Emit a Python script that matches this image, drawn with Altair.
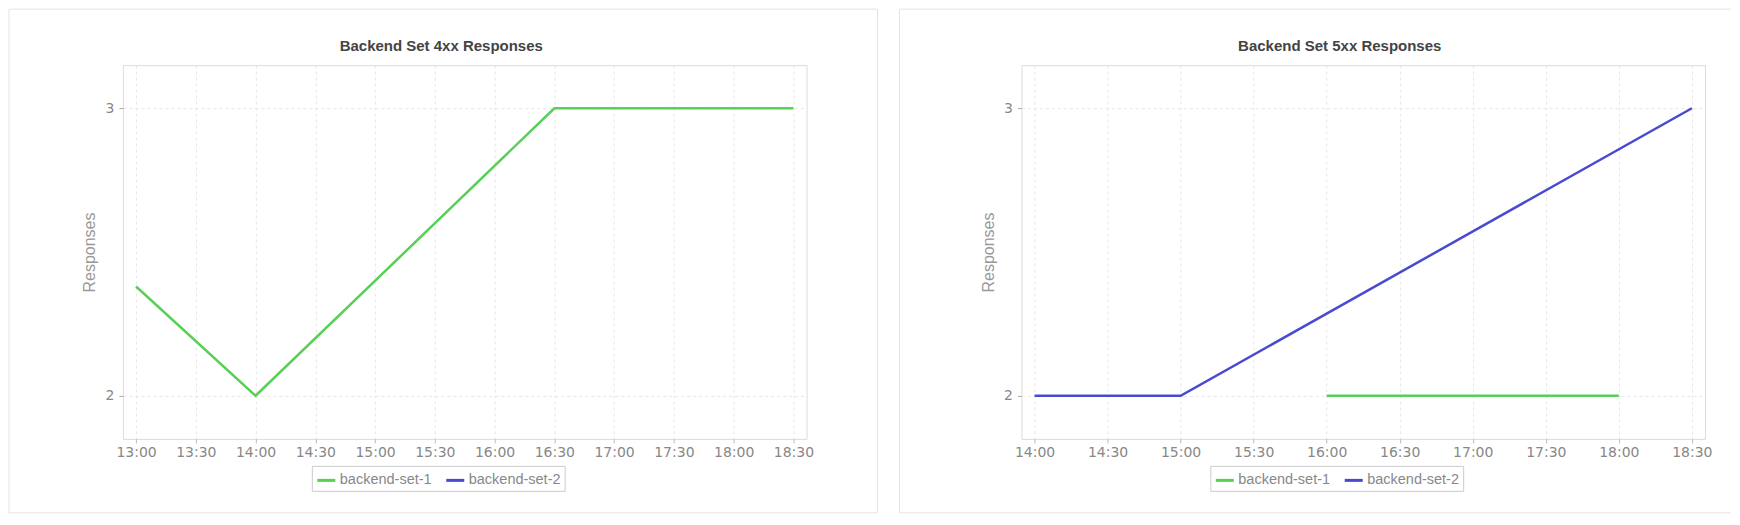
import altair as alt
import pandas as pd

DAY = "2024-01-01T"

series_names = ["backend-set-1", "backend-set-2"]
series_colors = ["#57d057", "#4a4ad0"]

# Backend Set 4xx Responses
c4_set1_times = ["13:00", "14:00", "16:30", "18:30"]
c4_set1_values = [2.38, 2.0, 3.0, 3.0]

# Backend Set 5xx Responses
c5_set1_times = ["16:00", "18:00"]
c5_set1_values = [2.0, 2.0]
c5_set2_times = ["14:00", "15:00", "18:30"]
c5_set2_values = [2.0, 2.0, 3.0]

y_ticks = [2, 3]
titles = ["Backend Set 4xx Responses", "Backend Set 5xx Responses"]

c4_ticks = ["13:00", "13:30", "14:00", "14:30", "15:00", "15:30", "16:00",
            "16:30", "17:00", "17:30", "18:00", "18:30"]
c5_ticks = ["14:00", "14:30", "15:00", "15:30", "16:00", "16:30", "17:00",
            "17:30", "18:00", "18:30"]


def dt(hhmm, sec=0):
    h, m = hhmm.split(":")
    return alt.DateTime(year=2024, month=1, date=1, hours=int(h), minutes=int(m), seconds=sec)


def frame(parts):
    rows = []
    for name, times, vals in parts:
        for t, v in zip(times, vals):
            rows.append({"series": name, "time": DAY + t + ":00", "value": v})
    return pd.DataFrame(rows)


df4 = frame([("backend-set-1", c4_set1_times, c4_set1_values)])
df5 = frame([("backend-set-1", c5_set1_times, c5_set1_values),
             ("backend-set-2", c5_set2_times, c5_set2_values)])

W, H = 684, 374


def panel(df, title, dstart, dend, ticks, card):
    x_axis = alt.Axis(title=None, format="%H:%M",
                      values=[dt(t) for t in ticks],
                      labelFont="DejaVu Sans", labelFontSize=14, labelColor="#888",
                      labelPadding=3, labelFlush=False, labelOverlap=False,
                      tickSize=4, tickColor="#bbb", domain=False,
                      grid=True, gridColor="#e6e6e6", gridDash=[3, 3])
    y_axis = alt.Axis(values=y_ticks, title="Responses", format="d",
                      titleFont="Liberation Sans", titleFontSize=16, titleFontWeight="normal",
                      titleColor="#999", titleX=-33, titleY=H / 2, titleBaseline="middle",
                      titleAngle=270,
                      labelFont="DejaVu Sans", labelFontSize=14, labelColor="#888",
                      labelPadding=5, tickSize=4, tickColor="#aaa", domain=False,
                      grid=True, gridColor="#e6e6e6", gridDash=[3, 3])
    x = alt.X("time:T", scale=alt.Scale(domain=[dstart, dend], nice=False), axis=x_axis)
    y = alt.Y("value:Q", scale=alt.Scale(domain=[1.85, 3.15], nice=False, zero=False), axis=y_axis)
    legend = alt.Legend(title=None, orient="none", legendX=189, legendY=401,
                        direction="horizontal", columns=2,
                        symbolType="stroke", symbolSize=324, symbolStrokeWidth=3,
                        labelFont="Liberation Sans", labelFontSize=14.5, labelColor="#888",
                        labelOffset=3, columnPadding=8, padding=4,
                        strokeColor="#cccccc")
    lines = alt.Chart(df).mark_line(strokeWidth=2.5, clip=True).encode(
        x=x, y=y,
        color=alt.Color("series:N", scale=alt.Scale(domain=series_names, range=series_colors),
                        legend=legend),
    )
    one = pd.DataFrame({"title": [title]})
    title_mark = alt.Chart(one).mark_text(
        font="Liberation Sans", fontSize=15, fontWeight="bold", color="#444",
        align="center", baseline="alphabetic",
    ).encode(x=alt.value(318.5), y=alt.value(-14), text="title:N")
    layers = [lines, title_mark] + card
    return alt.layer(*layers).properties(width=W, height=H)


one_row = pd.DataFrame({"k": [0]})


def hrule(x1, x2, yv):
    return alt.Chart(one_row).mark_rule(color="#e3e3e3", strokeWidth=1).encode(
        x=alt.value(x1), x2=alt.value(x2), y=alt.value(yv))


def vrule(xv, y1, y2):
    return alt.Chart(one_row).mark_rule(color="#e3e3e3", strokeWidth=1).encode(
        x=alt.value(xv), y=alt.value(y1), y2=alt.value(y2))


card_left = [hrule(-114, 755, -56), hrule(-114, 755, 448),
             vrule(-114, -56, 448), vrule(755, -56, 448)]
card_right = [hrule(-122, 710, -56), hrule(-122, 710, 448), vrule(-122, -56, 448)]

left = panel(df4, titles[0], dt("12:53", 24), dt("18:36", 36), c4_ticks, card_left)
right = panel(df5, titles[1], dt("13:54", 36), dt("18:35", 24), c5_ticks, card_right)

chart = alt.hconcat(left, right, spacing=215, bounds="flush").resolve_scale(
    color="independent", x="independent", y="independent"
).resolve_legend(color="independent").properties(
    padding={"left": 0, "top": 0, "right": 0, "bottom": 0}
).configure_view(stroke="#dcdcdc", strokeWidth=1)

chart.save("out.html", embed_options={"renderer": "svg", "actions": False})
